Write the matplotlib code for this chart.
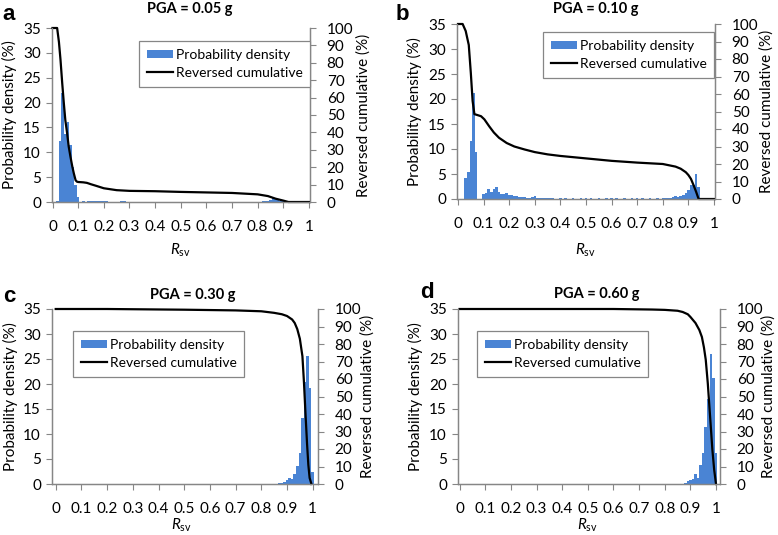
import matplotlib
matplotlib.use("Agg")
import matplotlib.pyplot as plt
from matplotlib.patches import Patch
from matplotlib.lines import Line2D

plt.rcParams['font.family'] = ['Lato', 'DejaVu Sans']
plt.rcParams['mathtext.fontset'] = 'custom'
plt.rcParams['mathtext.rm'] = 'Lato'
plt.rcParams['mathtext.it'] = 'Lato:italic'

# ---- data (bin width 0.01, centres at k/100) ----
a_bins = [0.02, 0.03, 0.04, 0.05, 0.06, 0.07, 0.08, 0.09, 0.10, 0.11, 0.12, 0.13,
          0.14, 0.15, 0.16, 0.17, 0.18, 0.19, 0.20, 0.21, 0.22, 0.23, 0.26, 0.27,
          0.28, 0.35, 0.45, 0.62, 0.66, 0.70, 0.75, 0.80, 0.82, 0.83, 0.84, 0.85,
          0.86, 0.87, 0.88, 0.89, 0.90]
a_dens = [0.3, 12.3, 22.0, 13.7, 16.0, 11.5, 7.0, 3.5, 1.0, 0.1, 0.2, 0.1,
          0.2, 0.3, 0.3, 0.2, 0.3, 0.3, 0.2, 0.2, 0.1, 0.1, 0.1, 0.2,
          0.2, 0.05, 0.05, 0.1, 0.1, 0.1, 0.1, 0.1, 0.2, 0.3, 0.2, 0.5,
          0.8, 0.8, 0.6, 0.3, 0.2]
a_cum_x = [0, 0.018, 0.025, 0.031, 0.038, 0.044, 0.05, 0.057, 0.063, 0.07, 0.077,
           0.083, 0.09, 0.095, 0.1, 0.12, 0.134, 0.15, 0.17, 0.2, 0.25, 0.3, 0.4,
           0.5, 0.6, 0.7, 0.75, 0.8, 0.84, 0.87, 0.9, 0.92, 1.0]
a_cum_y = [100, 100, 92, 82, 68, 57, 47, 39.5, 32, 26, 20.5,
           16.5, 12.5, 11.7, 11.5, 11.3, 11, 10.2, 9.3, 7.9, 6.8, 6.4, 6.2,
           5.8, 5.5, 5.2, 4.8, 4.4, 3.4, 1.9, 0.8, 0, 0]

b_bins = [0.03, 0.04, 0.05, 0.06, 0.07, 0.10, 0.11, 0.12, 0.13, 0.14, 0.15, 0.16,
          0.17, 0.18, 0.19, 0.20, 0.21, 0.22, 0.23, 0.24, 0.25, 0.26, 0.27, 0.28,
          0.29, 0.30, 0.31, 0.32, 0.33, 0.34, 0.35, 0.36, 0.37, 0.40, 0.42, 0.45,
          0.48, 0.50, 0.52, 0.55, 0.58, 0.60, 0.62, 0.65, 0.68, 0.70, 0.72, 0.75,
          0.78, 0.80, 0.81, 0.82, 0.83, 0.84, 0.85, 0.86, 0.87, 0.88, 0.89, 0.90,
          0.91, 0.92, 0.93, 0.94]
b_dens = [4.2, 5.5, 11.7, 21.2, 9.4, 1.0, 1.3, 2.1, 1.5, 2.0, 2.5, 1.5,
          1.0, 1.1, 1.2, 0.8, 0.9, 0.7, 0.6, 0.5, 0.4, 0.4, 0.3, 0.3,
          0.5, 0.6, 0.3, 0.2, 0.2, 0.2, 0.3, 0.3, 0.2, 0.2, 0.2, 0.2,
          0.2, 0.2, 0.2, 0.2, 0.2, 0.2, 0.3, 0.2, 0.2, 0.2, 0.2, 0.2,
          0.2, 0.2, 0.2, 0.2, 0.3, 0.4, 0.6, 0.4, 0.6, 0.9, 1.3, 1.9,
          2.8, 2.8, 5.0, 2.4]
b_cum_x = [0, 0.018, 0.03, 0.042, 0.05, 0.057, 0.064, 0.075, 0.09, 0.103, 0.122,
           0.14, 0.16, 0.19, 0.22, 0.26, 0.3, 0.35, 0.4, 0.5, 0.6, 0.7, 0.8,
           0.85, 0.87, 0.89, 0.9, 0.91, 0.92, 0.93, 0.94, 1.0]
b_cum_y = [100, 100, 96, 88, 72, 56, 48.5, 48, 47.3, 45.5, 41.5,
           38, 35, 32, 30, 28.3, 26.8, 25.5, 24.6, 23.2, 21.8, 20.8, 20,
           18.5, 17.3, 15.3, 13.7, 11.5, 8, 4.2, 0, 0]

c_bins = [0.80, 0.82, 0.84, 0.86, 0.87, 0.88, 0.89, 0.90, 0.91, 0.92, 0.93, 0.94,
          0.95, 0.96, 0.97, 0.98, 0.99, 1.00]
c_dens = [0.05, 0.05, 0.1, 0.1, 0.2, 0.2, 0.4, 0.9, 1.3, 1.0, 2.0, 3.7,
          6.2, 13.3, 20.5, 25.7, 19.2, 2.5]
c_cum_x = [0, 0.2, 0.5, 0.7, 0.8, 0.85, 0.88, 0.9, 0.92, 0.93, 0.94, 0.95,
           0.96, 0.966, 0.972, 0.978, 0.983, 0.988, 0.995]
c_cum_y = [100, 100, 99.6, 99.2, 98.7, 97.8, 97, 96, 94, 92, 88.5, 83,
           73, 58, 40, 23, 11, 3.5, 0]

d_bins = [0.72, 0.88, 0.89, 0.90, 0.91, 0.92, 0.93, 0.94, 0.95, 0.96, 0.97, 0.98,
          0.99, 1.00]
d_dens = [0.1, 0.2, 0.6, 0.8, 1.1, 2.0, 1.2, 3.9, 6.3, 11.5, 17.1, 26.0,
          21.2, 6.3]
d_cum_x = [0, 0.6, 0.75, 0.8, 0.85, 0.87, 0.89, 0.9, 0.92, 0.935, 0.945, 0.953,
           0.96, 0.968, 0.977, 0.986, 0.993, 1.0]
d_cum_y = [100, 100, 99.7, 99.5, 99, 98.3, 97, 95.5, 92, 88, 84, 78,
           71, 57.5, 38.5, 19.4, 8, 0]

panels = [
    dict(letter='a', title='PGA = 0.05 g', bins=a_bins, dens=a_dens, cx=a_cum_x, cy=a_cum_y,
         box=(52, 310, 28, 202), xlim=(-0.002, 1.004), leg=(139, 41),
         title_xy=(190, 9), letter_xy=(2, 14), xlab_xy=(180, 259), ylab_x=(9, 364)),
    dict(letter='b', title='PGA = 0.10 g', bins=b_bins, dens=b_dens, cx=b_cum_x, cy=b_cum_y,
         box=(457, 715, 24, 199), xlim=(-0.004, 1.004), leg=(543, 32),
         title_xy=(596, 9), letter_xy=(396, 14), xlab_xy=(585, 259), ylab_x=(414, 767)),
    dict(letter='c', title='PGA = 0.30 g', bins=c_bins, dens=c_dens, cx=c_cum_x, cy=c_cum_y,
         box=(52, 318, 309, 484), xlim=(-0.0144, 1.0206), leg=(73, 331),
         title_xy=(193, 295), letter_xy=(3, 296), xlab_xy=(181, 534), ylab_x=(10, 368)),
    dict(letter='d', title='PGA = 0.60 g', bins=d_bins, dens=d_dens, cx=d_cum_x, cy=d_cum_y,
         box=(458, 720, 309, 484), xlim=(-0.0062, 1.0156), leg=(477, 331),
         title_xy=(597, 294), letter_xy=(420, 292), xlab_xy=(587, 534), ylab_x=(415, 769)),
]

W, H = 778, 535
blue = '#4a84d4'
grey = '#868686'
fig = plt.figure(figsize=(W / 100, H / 100), dpi=100)


def fx(px):
    return px / W


def fy(py):
    return 1 - py / H


for p in panels:
    l, r, t, b = p['box']
    ax = fig.add_axes([fx(l), fy(b), fx(r - l), (b - t) / H])
    ax.bar(p['bins'], p['dens'], width=0.01, color=blue, linewidth=0)
    ax.set_xlim(*p['xlim'])
    ax.set_ylim(0, 35)
    ax.set_xticks([i / 10 for i in range(11)])
    ax.set_xticklabels(['%g' % (i / 10) for i in range(11)])
    ax.set_yticks(range(0, 36, 5))

    ax2 = ax.twinx()
    ax2.plot(p['cx'], p['cy'], color='black', linewidth=1.6, clip_on=False)
    ax2.set_ylim(0, 100)
    ax2.set_yticks(range(0, 101, 10))

    for a in (ax, ax2):
        a.spines['top'].set_visible(False)
        for s in ('left', 'right', 'bottom'):
            a.spines[s].set_color(grey)
            a.spines[s].set_linewidth(0.9)
        a.tick_params(colors=grey, labelcolor='black', labelsize=11, length=4, width=0.8)
    ax.tick_params(axis='x', pad=9)
    ax.tick_params(axis='y', pad=4)
    ax2.tick_params(axis='y', pad=8)

    lx, ly = p['leg']
    handles = [Patch(facecolor=blue, edgecolor='none'),
               Line2D([0], [0], color='black', linewidth=1.6)]
    leg = ax2.legend(handles, ['Probability density', 'Reversed cumulative'],
                     loc='upper left', bbox_to_anchor=(fx(lx), fy(ly)),
                     bbox_transform=fig.transFigure, fontsize=10, frameon=True,
                     fancybox=False, framealpha=1, edgecolor=grey, borderpad=0.55,
                     handlelength=1.9, handleheight=0.5, labelspacing=0.45,
                     handletextpad=0.2, borderaxespad=0)
    leg.get_frame().set_linewidth(0.9)

    fig.text(fx(p['title_xy'][0]), fy(p['title_xy'][1]), p['title'], ha='center',
             va='center', fontsize=10.5, fontweight='bold')
    fig.text(fx(p['letter_xy'][0]), fy(p['letter_xy'][1]), p['letter'], ha='left',
             va='center', fontsize=16, fontweight='bold', family='Liberation Sans')
    fig.text(fx(p['xlab_xy'][0]), fy(p['xlab_xy'][1]), r'$R_{\mathrm{sv}}$', ha='center',
             va='bottom', fontsize=11)
    ymid = fy((t + b) / 2)
    fig.text(fx(p['ylab_x'][0]), ymid, 'Probability density (%)', rotation=90,
             ha='center', va='center', fontsize=11)
    fig.text(fx(p['ylab_x'][1]), ymid, 'Reversed cumulative (%)', rotation=90,
             ha='center', va='center', fontsize=11)

fig.savefig('out.png', dpi=100)
